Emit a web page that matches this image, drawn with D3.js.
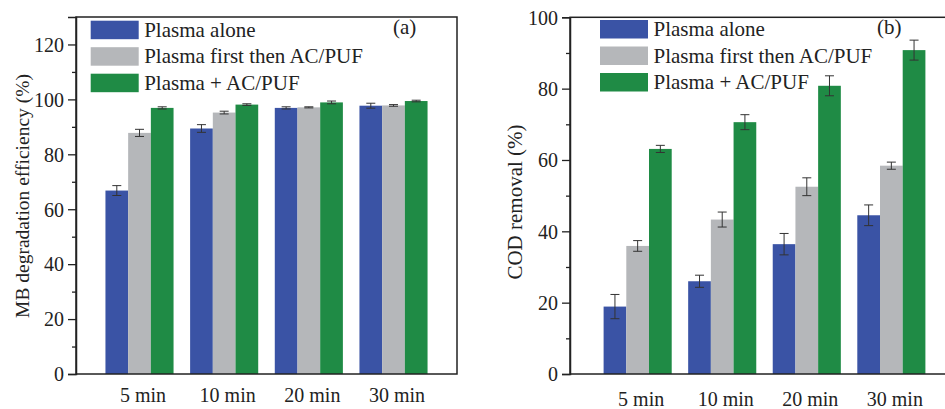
<!DOCTYPE html>
<html>
<head>
<meta charset="utf-8">
<script src="https://cdn.jsdelivr.net/npm/d3@7/dist/d3.min.js"></script>
<style>
  html, body { margin: 0; padding: 0; background: #fff; }
  svg { display: block; }
  text { font-family: "Liberation Serif", "Times New Roman", serif; fill: #222; }
</style>
</head>
<body>
<svg id="chart" width="945" height="409"></svg>
<script>
// ---------- data ----------
const categories = ["5 min", "10 min", "20 min", "30 min"];
const seriesNames = ["Plasma alone", "Plasma first then AC/PUF", "Plasma + AC/PUF"];
const colors = ["#3a53a5", "#b5b7ba", "#1f8b45"];

// (a) MB degradation efficiency (%)
const mbAlone      = [66.8, 89.4, 96.9, 97.7];
const mbFirstThen  = [87.8, 95.2, 97.1, 97.8];
const mbCombined   = [96.9, 98.1, 98.9, 99.4];
const mbAloneErr     = [1.8, 1.4, 0.4, 0.9];
const mbFirstThenErr = [1.3, 0.5, 0.2, 0.3];
const mbCombinedErr  = [0.4, 0.3, 0.5, 0.3];

// (b) COD removal (%)
const codAlone      = [18.9, 26.0, 36.4, 44.5];
const codFirstThen  = [35.9, 43.3, 52.5, 58.4];
const codCombined   = [63.1, 70.6, 80.8, 90.8];
const codAloneErr     = [3.4, 1.7, 3.0, 2.9];
const codFirstThenErr = [1.5, 2.1, 2.5, 1.0];
const codCombinedErr  = [1.0, 2.1, 2.8, 2.8];

const mbTicks  = [0, 20, 40, 60, 80, 100, 120];
const mbMinor  = [10, 30, 50, 70, 90, 110];
const codTicks = [0, 20, 40, 60, 80, 100];
const codMinor = [10, 30, 50, 70, 90];

// ---------- drawing ----------
const svg = d3.select("#chart");

function panel(opts) {
  const g = svg.append("g");
  const x = d3.scalePoint().domain(categories).range([opts.left, opts.right]).padding(opts.pad);
  const y = d3.scaleLinear().domain(opts.ydomain).range([374, opts.top]);
  const bw = 22.7;

  const series = opts.values.map((vals, si) => ({ si, vals, errs: opts.errs[si] }));

  // bars
  series.forEach(s => {
    g.selectAll(null).data(categories).enter().append("rect")
      .attr("x", (c) => x(c) + (s.si - 1.5) * bw)
      .attr("y", (c, i) => y(s.vals[i]))
      .attr("width", bw)
      .attr("height", (c, i) => y(0) - y(s.vals[i]))
      .attr("fill", colors[s.si]);
  });
  // error bars
  series.forEach(s => {
    categories.forEach((c, i) => {
      const cx = x(c) + (s.si - 1) * bw;
      const hi = y(s.vals[i] + s.errs[i]), lo = y(s.vals[i] - s.errs[i]);
      const eg = g.append("g").attr("stroke", "#333").attr("stroke-width", 1);
      eg.append("line").attr("x1", cx).attr("x2", cx).attr("y1", hi).attr("y2", lo);
      eg.append("line").attr("x1", cx - 4.5).attr("x2", cx + 4.5).attr("y1", hi).attr("y2", hi);
      eg.append("line").attr("x1", cx - 4.5).attr("x2", cx + 4.5).attr("y1", lo).attr("y2", lo);
    });
  });

  // frame
  g.append("rect").attr("x", opts.left).attr("y", opts.top)
    .attr("width", opts.right - opts.left).attr("height", 374 - opts.top)
    .attr("fill", "none").attr("stroke", "#222").attr("stroke-width", 1.5);

  // y axis
  const ya = d3.axisLeft(y).tickValues(opts.ticks).tickSize(8).tickPadding(4).tickFormat(d3.format("d"));
  const yg = g.append("g").attr("transform", `translate(${opts.left},0)`).call(ya);
  yg.select(".domain").attr("stroke", "#222").attr("stroke-width", 1.5);
  yg.selectAll(".tick line").attr("stroke", "#222").attr("stroke-width", 1.3);
  yg.selectAll(".tick text").style("font-family", '"Liberation Serif", serif').style("font-size", "20px").attr("fill", "#222").attr("dy", "0.34em");
  const ym = d3.axisLeft(y).tickValues(opts.minor).tickSize(4).tickFormat("");
  const ymg = g.append("g").attr("transform", `translate(${opts.left},0)`).call(ym);
  ymg.select(".domain").remove();
  ymg.selectAll(".tick line").attr("stroke", "#222").attr("stroke-width", 1.3);

  // x labels
  const xa = d3.axisBottom(x).tickSize(0).tickPadding(0);
  const xg = g.append("g").attr("transform", `translate(${opts.labelShift},${opts.labelY})`).call(xa);
  xg.select(".domain").remove();
  xg.selectAll(".tick text").style("font-family", '"Liberation Serif", serif').style("font-size", "20px").attr("fill", "#222").attr("dy", "0");

  // y title
  g.append("text")
    .attr("transform", `translate(${opts.titleX},${opts.titleY}) rotate(-90)`)
    .attr("text-anchor", "middle")
    .style("font-size", opts.titleSize + "px")
    .text(opts.title);

  // legend
  seriesNames.forEach((name, i) => {
    const ly = opts.legY + i * 26.5;
    g.append("rect").attr("x", opts.legX).attr("y", ly).attr("width", 48).attr("height", 18.5).attr("fill", colors[i]);
    g.append("text").attr("x", opts.legX + 53.5).attr("y", ly + 16).style("font-size", "21px").text(name);
  });

  // panel letter
  g.append("text").attr("x", opts.letterX).attr("y", 34).style("font-size", "21px").text(opts.letter);
}

panel({
  left: 76, right: 457, top: 17, pad: 0.75, ydomain: [0, 130],
  values: [mbAlone, mbFirstThen, mbCombined],
  errs: [mbAloneErr, mbFirstThenErr, mbCombinedErr],
  ticks: mbTicks, minor: mbMinor,
  labelY: 402, labelShift: 3,
  title: "MB degradation efficiency (%)", titleX: 29, titleY: 196, titleSize: 19.5,
  legX: 90.7, legY: 20.7, letter: "(a)", letterX: 393
});

panel({
  left: 570, right: 959, top: 17.3, pad: 0.8, ydomain: [0, 100],
  values: [codAlone, codFirstThen, codCombined],
  errs: [codAloneErr, codFirstThenErr, codCombinedErr],
  ticks: codTicks, minor: codMinor,
  labelY: 406, labelShift: 3,
  title: "COD removal (%)", titleX: 522, titleY: 202, titleSize: 21,
  legX: 600, legY: 20, letter: "(b)", letterX: 877
});
</script>
</body>
</html>
